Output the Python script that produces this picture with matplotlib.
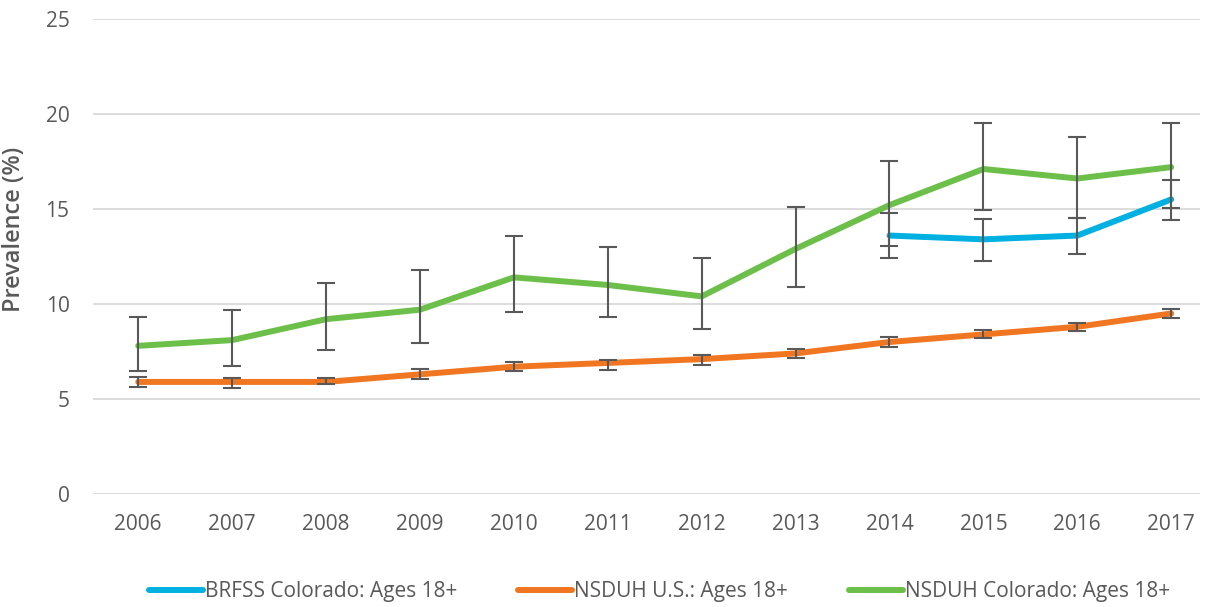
import matplotlib
matplotlib.use("Agg")
import matplotlib.pyplot as plt
import numpy as np

years = ["2006", "2007", "2008", "2009", "2010", "2011",
         "2012", "2013", "2014", "2015", "2016", "2017"]

# BRFSS Colorado (only 2014-2017)
brfss_years = ["2014", "2015", "2016", "2017"]
brfss = [13.6, 13.4, 13.6, 15.5]
brfss_lo = [12.4, 12.25, 12.65, 14.4]
brfss_hi = [14.8, 14.45, 14.5, 16.5]

nsduh_us = [5.9, 5.9, 5.9, 6.3, 6.7, 6.9, 7.1, 7.4, 8.0, 8.4, 8.8, 9.5]
nsduh_us_lo = [5.65, 5.6, 5.8, 6.05, 6.45, 6.55, 6.8, 7.15, 7.75, 8.2, 8.6, 9.25]
nsduh_us_hi = [6.15, 6.1, 6.1, 6.6, 6.95, 7.05, 7.3, 7.65, 8.25, 8.65, 9.0, 9.75]

nsduh_co = [7.8, 8.1, 9.2, 9.7, 11.4, 11.0, 10.4, 12.9, 15.2, 17.1, 16.6, 17.2]
nsduh_co_lo = [6.5, 6.75, 7.6, 7.95, 9.6, 9.3, 8.7, 10.9, 13.05, 14.95, 14.5, 15.05]
nsduh_co_hi = [9.3, 9.7, 11.1, 11.8, 13.6, 13.0, 12.4, 15.1, 17.5, 19.5, 18.8, 19.5]

GRAY = "#595959"
plt.rcParams["font.family"] = ["Open Sans", "DejaVu Sans"]

fig = plt.figure(figsize=(12.1, 6.07), dpi=100)
ax = fig.add_axes([0.077, 0.186, 0.915, 0.783])

x = np.arange(len(years))
xb = np.array([years.index(y) for y in brfss_years])

series = [
    (xb, brfss, brfss_lo, brfss_hi, "#00B0E0", "BRFSS Colorado: Ages 18+"),
    (x, nsduh_us, nsduh_us_lo, nsduh_us_hi, "#F07622", "NSDUH U.S.: Ages 18+"),
    (x, nsduh_co, nsduh_co_lo, nsduh_co_hi, "#6CC04A", "NSDUH Colorado: Ages 18+"),
]
for xs, v, lo, hi, color, label in series:
    v = np.array(v)
    yerr = [v - np.array(lo), np.array(hi) - v]
    ax.plot(xs, v, color=color, lw=4.3, solid_capstyle="round", label=label, zorder=3)
    ax.errorbar(xs, v, yerr=yerr, fmt="none", ecolor=GRAY, elinewidth=1.5,
                capsize=6.5, capthick=1.5, zorder=4)

ax.set_ylim(0, 25)
ax.set_yticks(range(0, 26, 5))
ax.set_xlim(-0.48, 11.31)
ax.set_xticks(x)
ax.set_xticklabels(years)
ax.grid(axis="y", color="#D9D9D9", lw=1.3)
ax.set_axisbelow(True)
for s in ax.spines.values():
    s.set_visible(False)
ax.tick_params(axis="both", length=0, labelsize=15, labelcolor=GRAY)
ax.tick_params(axis="x", pad=14)
ax.tick_params(axis="y", pad=17)
ax.set_ylabel("Prevalence (%)", fontsize=17, color=GRAY, fontweight="semibold")
ax.yaxis.set_label_coords(-0.061, 0.556)

fig.legend(loc="center", bbox_to_anchor=(0.545, 0.025), ncol=3, frameon=False,
           fontsize=15, labelcolor=GRAY, handlelength=2.6, handletextpad=0.1,
           columnspacing=2.9)

fig.savefig("out.png", dpi=100)
